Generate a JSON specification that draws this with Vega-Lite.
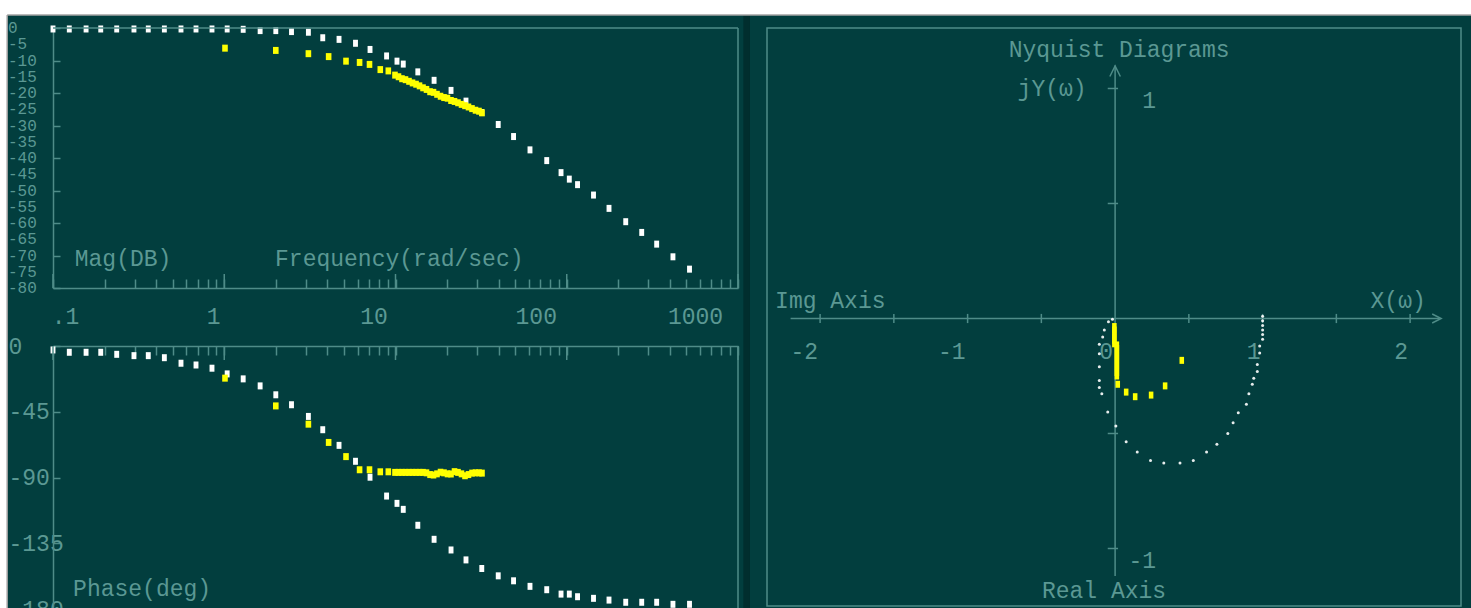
{
  "$schema": "https://vega.github.io/schema/vega-lite/v6.json",
  "autosize": {"type": "none"},
  "padding": {"left": 53, "top": 28, "right": 1418, "bottom": 580},
  "background": "#023e3e",
  "bounds": "flush",
  "spacing": 29,
  "config": {
    "view": {"stroke": null},
    "axis": {"domainColor": "#4f8c88", "tickColor": "#4f8c88", "domainWidth": 1.5, "tickWidth": 1.5, "labelColor": "#5b9893", "labelFont": "Liberation Mono", "labelFontSize": 23, "grid": false, "title": null, "labelFlush": false},
    "text": {"font": "Liberation Mono", "fontSize": 23, "color": "#5b9893"},
    "rule": {"color": "#4f8c88", "strokeWidth": 1.5}
  },
  "datasets": {
    "white": [
      {"w": 0.1, "mag": -0.3, "phase": -2.7},
      {"w": 0.1245, "mag": -0.3, "phase": -4.3},
      {"w": 0.156, "mag": -0.3, "phase": -4.3},
      {"w": 0.19, "mag": -0.3, "phase": -4.3},
      {"w": 0.2355, "mag": -0.3, "phase": -5.7},
      {"w": 0.297, "mag": -0.3, "phase": -6.6},
      {"w": 0.36, "mag": -0.3, "phase": -6.6},
      {"w": 0.447, "mag": -0.3, "phase": -8.0},
      {"w": 0.559, "mag": -0.3, "phase": -11.8},
      {"w": 0.684, "mag": -0.3, "phase": -13.0},
      {"w": 0.848, "mag": -0.3, "phase": -15.2},
      {"w": 1.04, "mag": -0.3, "phase": -19.1},
      {"w": 1.29, "mag": -0.4, "phase": -22.5},
      {"w": 1.62, "mag": -0.8, "phase": -27.3},
      {"w": 2.0, "mag": -0.8, "phase": -33.4},
      {"w": 2.47, "mag": -1.1, "phase": -40.2},
      {"w": 3.1, "mag": -1.3, "phase": -48.2},
      {"w": 3.76, "mag": -3.0, "phase": -57.3},
      {"w": 4.68, "mag": -3.5, "phase": -68.0},
      {"w": 5.84, "mag": -4.7, "phase": -78.9},
      {"w": 7.1, "mag": -6.6, "phase": -89.8},
      {"w": 8.87, "mag": -8.6, "phase": -102.7},
      {"w": 10.2, "mag": -10.2, "phase": -107.7},
      {"w": 11.1, "mag": -11.1, "phase": -111.8},
      {"w": 13.5, "mag": -13.5, "phase": -122.7},
      {"w": 16.8, "mag": -16.1, "phase": -132.3},
      {"w": 21.1, "mag": -19.2, "phase": -139.6},
      {"w": 25.8, "mag": -22.5, "phase": -146.4},
      {"w": 31.9, "mag": -26.0, "phase": -152.3},
      {"w": 39.8, "mag": -29.7, "phase": -157.3},
      {"w": 48.9, "mag": -33.4, "phase": -160.7},
      {"w": 61.0, "mag": -37.5, "phase": -164.5},
      {"w": 76.4, "mag": -40.8, "phase": -166.8},
      {"w": 92.6, "mag": -44.5, "phase": -169.8},
      {"w": 103.5, "mag": -46.5, "phase": -169.8},
      {"w": 115.6, "mag": -48.2, "phase": -171.6},
      {"w": 143.3, "mag": -51.4, "phase": -172.7},
      {"w": 176.5, "mag": -55.5, "phase": -173.9},
      {"w": 221, "mag": -59.6, "phase": -175.4},
      {"w": 274, "mag": -62.9, "phase": -175.4},
      {"w": 335, "mag": -66.5, "phase": -175.4},
      {"w": 417, "mag": -70.4, "phase": -176.8},
      {"w": 521, "mag": -74.2, "phase": -176.8}
    ],
    "yellow": [
      {"w": 1.01, "mag": -6.2, "phase": -22.0},
      {"w": 2.0, "mag": -6.9, "phase": -41.0},
      {"w": 3.1, "mag": -7.9, "phase": -53.5},
      {"w": 4.07, "mag": -8.8, "phase": -66.0},
      {"w": 5.14, "mag": -10.2, "phase": -75.7},
      {"w": 6.17, "mag": -10.6, "phase": -84.7},
      {"w": 7.05, "mag": -11.2, "phase": -84.7},
      {"w": 8.15, "mag": -12.8, "phase": -86.1},
      {"w": 9.08, "mag": -13.2, "phase": -86.1},
      {"w": 9.93, "mag": -14.5, "phase": -86.5},
      {"w": 10.41, "mag": -15.0, "phase": -86.5},
      {"w": 10.91, "mag": -15.6, "phase": -86.5},
      {"w": 11.44, "mag": -15.9, "phase": -86.5},
      {"w": 11.99, "mag": -16.4, "phase": -86.5},
      {"w": 12.57, "mag": -16.9, "phase": -86.5},
      {"w": 13.18, "mag": -17.3, "phase": -86.5},
      {"w": 13.81, "mag": -17.8, "phase": -86.5},
      {"w": 14.48, "mag": -18.4, "phase": -86.5},
      {"w": 15.17, "mag": -18.9, "phase": -86.8},
      {"w": 15.91, "mag": -19.6, "phase": -88.0},
      {"w": 16.67, "mag": -19.8, "phase": -88.3},
      {"w": 17.47, "mag": -20.4, "phase": -87.5},
      {"w": 18.32, "mag": -21.0, "phase": -86.4},
      {"w": 19.2, "mag": -21.4, "phase": -86.8},
      {"w": 20.12, "mag": -21.6, "phase": -87.5},
      {"w": 21.09, "mag": -22.3, "phase": -87.6},
      {"w": 22.11, "mag": -22.6, "phase": -86.0},
      {"w": 23.17, "mag": -23.0, "phase": -86.5},
      {"w": 24.29, "mag": -23.5, "phase": -87.5},
      {"w": 25.46, "mag": -23.9, "phase": -88.8},
      {"w": 26.68, "mag": -24.3, "phase": -88.0},
      {"w": 27.97, "mag": -24.8, "phase": -87.0},
      {"w": 29.32, "mag": -25.3, "phase": -86.8},
      {"w": 30.73, "mag": -25.6, "phase": -86.8},
      {"w": 32.0, "mag": -26.1, "phase": -87.0}
    ],
    "majorTicks": [{"v": 0.1}, {"v": 1}, {"v": 10}, {"v": 100}, {"v": 1000}],
    "magLabels": [
      {"v": 0, "label": "0"}, {"v": -5, "label": "-5"}, {"v": -10, "label": "-10"}, {"v": -15, "label": "-15"},
      {"v": -20, "label": "-20"}, {"v": -25, "label": "-25"}, {"v": -30, "label": "-30"}, {"v": -35, "label": "-35"},
      {"v": -40, "label": "-40"}, {"v": -45, "label": "-45"}, {"v": -50, "label": "-50"}, {"v": -55, "label": "-55"},
      {"v": -60, "label": "-60"}, {"v": -65, "label": "-65"}, {"v": -70, "label": "-70"}, {"v": -75, "label": "-75"},
      {"v": -80, "label": "-80"}
    ],
    "nyqWhite": [
      {"re": 1.0, "im": 0.01}, {"re": 1.0, "im": -0.01}, {"re": 1.0, "im": -0.03}, {"re": 1.0, "im": -0.05},
      {"re": 1.0, "im": -0.07}, {"re": 1.0, "im": -0.09}, {"re": 0.98, "im": -0.12}, {"re": 0.98, "im": -0.15},
      {"re": 0.964, "im": -0.2}, {"re": 0.964, "im": -0.23}, {"re": 0.94, "im": -0.26}, {"re": 0.93, "im": -0.286},
      {"re": 0.907, "im": -0.327}, {"re": 0.89, "im": -0.373}, {"re": 0.835, "im": -0.41}, {"re": 0.8, "im": -0.453},
      {"re": 0.764, "im": -0.5}, {"re": 0.69, "im": -0.547}, {"re": 0.62, "im": -0.58}, {"re": 0.53, "im": -0.617},
      {"re": 0.44, "im": -0.628}, {"re": 0.33, "im": -0.628}, {"re": 0.24, "im": -0.617}, {"re": 0.15, "im": -0.58},
      {"re": 0.075, "im": -0.536}, {"re": 0.005, "im": -0.467}, {"re": -0.05, "im": -0.407}, {"re": -0.09, "im": -0.327},
      {"re": -0.107, "im": -0.3}, {"re": -0.107, "im": -0.27}, {"re": -0.107, "im": -0.21}, {"re": -0.107, "im": -0.153},
      {"re": -0.107, "im": -0.112}, {"re": -0.084, "im": -0.08}, {"re": -0.073, "im": -0.05}, {"re": -0.045, "im": -0.014},
      {"re": -0.018, "im": -0.003}
    ],
    "nyqYellow": [
      {"re": -0.005, "im": -0.035}, {"re": -0.005, "im": -0.05}, {"re": -0.005, "im": -0.065}, {"re": -0.005, "im": -0.08},
      {"re": -0.005, "im": -0.095}, {"re": -0.005, "im": -0.11}, {"re": 0.012, "im": -0.115}, {"re": 0.012, "im": -0.13},
      {"re": 0.012, "im": -0.145}, {"re": 0.012, "im": -0.16}, {"re": 0.012, "im": -0.175}, {"re": 0.012, "im": -0.19},
      {"re": 0.012, "im": -0.205}, {"re": 0.012, "im": -0.22}, {"re": 0.012, "im": -0.235}, {"re": 0.012, "im": -0.25},
      {"re": 0.018, "im": -0.286}, {"re": 0.075, "im": -0.32}, {"re": 0.136, "im": -0.34}, {"re": 0.244, "im": -0.333},
      {"re": 0.339, "im": -0.293}, {"re": 0.452, "im": -0.182}
    ],
    "reTicks": [{"v": -2}, {"v": -1.5}, {"v": -1}, {"v": -0.5}, {"v": 0.5}, {"v": 1}, {"v": 1.5}, {"v": 2}],
    "imTicks": [{"v": -1}, {"v": -0.5}, {"v": 0.5}, {"v": 1}],
    "reLabels": [{"v": -2, "label": "-2"}, {"v": -1, "label": "-1"}, {"v": 0, "label": "0"}, {"v": 1, "label": "1"}, {"v": 2, "label": "2"}],
    "imLabels": [{"v": 1, "label": "1"}, {"v": -1, "label": "-1"}]
  },
  "hconcat": [
    {
      "width": 685,
      "height": 581,
      "view": {"stroke": null},
      "resolve": {"scale": {"y": "independent"}, "axis": {"x": "independent", "y": "independent"}},
      "layer": [
        {
          "layer": [
            {
              "data": {"values": [{}]},
              "mark": {"type": "rect", "color": "#ffffff"},
              "encoding": {"x": {"datum": 0.02}, "x2": {"datum": 1000000000}, "y": {"datum": 4.0}, "y2": {"datum": 14}}
            },
            {
              "data": {"values": [{}]},
              "mark": {"type": "rect", "color": "#ffffff"},
              "encoding": {"x": {"datum": 0.02}, "x2": {"datum": 0.054}, "y": {"datum": 14}, "y2": {"datum": -260}}
            },
            {
              "data": {"values": [{}]},
              "mark": {"type": "rect", "color": "#012e2e"},
              "encoding": {"x": {"datum": 1075}, "x2": {"datum": 1175}, "y": {"datum": 4.0}, "y2": {"datum": -260}}
            },
            {
              "data": {"values": [{}]},
              "mark": {"type": "rule", "color": "#a3a3a3", "strokeWidth": 1.5},
              "encoding": {"x": {"datum": 0.054}, "x2": {"datum": 1000000000}, "y": {"datum": 4.0}}
            },
            {
              "data": {"values": [{}]},
              "mark": {"type": "rule", "color": "#a3a3a3", "strokeWidth": 1.5},
              "encoding": {"x": {"datum": 0.054}, "y": {"datum": 4.0}, "y2": {"datum": -260}}
            },
            {
              "data": {"name": "white"},
              "mark": {"type": "point", "shape": "M-0.7,-1H0.7V1H-0.7Z", "filled": true, "size": 49, "color": "#ffffff", "opacity": 1},
              "encoding": {
                "x": {
                  "field": "w", "type": "quantitative",
                  "scale": {"type": "log", "domain": [0.1, 1000], "nice": false},
                  "axis": {
                    "orient": "bottom",
                    "offset": -321,
                    "values": [0.1, 0.2, 0.3, 0.4, 0.5, 0.6, 0.7, 0.8, 0.9, 1, 2, 3, 4, 5, 6, 7, 8, 9, 10, 20, 30, 40, 50, 60, 70, 80, 90, 100, 200, 300, 400, 500, 600, 700, 800, 900, 1000],
                    "tickSize": -9,
                    "labelPadding": 37,
                    "labelAlign": "center",
                    "labelBaseline": "middle",
                    "labelOverlap": {"expr": "false"},
                    "labelFlush": false,
                    "labelExpr": "datum.value == 0.1 ? '.1' : ((datum.value == 1 || datum.value == 10 || datum.value == 100 || datum.value == 1000) ? '' + datum.value : '')",
                    "labelOffset": {"condition": [
                      {"test": "datum.value == 0.1", "value": 12},
                      {"test": "datum.value == 1", "value": -11},
                      {"test": "datum.value == 10", "value": -22},
                      {"test": "datum.value == 100", "value": -31},
                      {"test": "datum.value == 1000", "value": -43}
                    ], "value": 0}
                  }
                },
                "y": {
                  "field": "mag", "type": "quantitative",
                  "scale": {"domain": [-80, 0], "range": [260, 0], "nice": false, "zero": false},
                  "axis": {
                    "orient": "left",
                    "values": [0, -5, -10, -15, -20, -25, -30, -35, -40, -45, -50, -55, -60, -65, -70, -75, -80],
                    "tickSize": -7,
                    "labels": false
                  }
                }
              }
            },
            {
              "data": {"name": "yellow"},
              "mark": {"type": "point", "shape": "M-0.8,-1H0.8V1H-0.8Z", "filled": true, "size": 49, "color": "#ffff00", "opacity": 1},
              "encoding": {
                "x": {"field": "w", "type": "quantitative"},
                "y": {"field": "mag", "type": "quantitative"}
              }
            },
            {
              "data": {"name": "magLabels"},
              "mark": {"type": "text", "align": "left", "baseline": "middle", "dx": -45, "fontSize": 16},
              "encoding": {"x": {"datum": 0.1}, "y": {"field": "v", "type": "quantitative"}, "text": {"field": "label"}}
            },
            {
              "data": {"name": "majorTicks"},
              "mark": {"type": "rule"},
              "encoding": {"x": {"field": "v", "type": "quantitative"}, "y": {"datum": -80}, "y2": {"datum": -75.7}}
            },
            {
              "data": {"values": [{}]},
              "mark": {"type": "rule"},
              "encoding": {"x": {"datum": 0.1}, "x2": {"datum": 1000}, "y": {"datum": 0}}
            },
            {
              "data": {"values": [{}]},
              "mark": {"type": "rule"},
              "encoding": {"x": {"datum": 1000}, "y": {"datum": -80}, "y2": {"datum": 0}}
            },
            {
              "data": {"values": [{}]},
              "mark": {"type": "text", "align": "left", "baseline": "middle"},
              "encoding": {"x": {"datum": 0.134}, "y": {"datum": -71}, "text": {"value": "Mag(DB)"}}
            },
            {
              "data": {"values": [{}]},
              "mark": {"type": "text", "align": "left", "baseline": "middle"},
              "encoding": {"x": {"datum": 1.98}, "y": {"datum": -71}, "text": {"value": "Frequency(rad/sec)"}}
            }
          ]
        },
        {
          "layer": [
            {
              "data": {"name": "white"},
              "mark": {"type": "point", "shape": "M-0.7,-1H0.7V1H-0.7Z", "filled": true, "size": 49, "color": "#ffffff", "opacity": 1},
              "encoding": {
                "x": {
                  "field": "w", "type": "quantitative",
                  "axis": {
                    "orient": "top",
                    "offset": -318,
                    "values": [0.1, 0.2, 0.3, 0.4, 0.5, 0.6, 0.7, 0.8, 0.9, 1, 2, 3, 4, 5, 6, 7, 8, 9, 10, 20, 30, 40, 50, 60, 70, 80, 90, 100, 200, 300, 400, 500, 600, 700, 800, 900, 1000],
                    "tickSize": -9,
                    "labels": false
                  }
                },
                "y": {
                  "field": "phase", "type": "quantitative",
                  "scale": {"domain": [-180, 0], "range": [581, 318], "nice": false, "zero": false},
                  "axis": {
                    "orient": "right",
                    "offset": -685,
                    "values": [0, -45, -90, -135, -180],
                    "tickSize": 7,
                    "labelPadding": -52,
                    "labelAlign": "left",
                    "labelBaseline": "middle",
                    "labelOverlap": {"expr": "false"},
                    "labelExpr": "'' + datum.value"
                  }
                }
              }
            },
            {
              "data": {"name": "yellow"},
              "mark": {"type": "point", "shape": "M-0.8,-1H0.8V1H-0.8Z", "filled": true, "size": 49, "color": "#ffff00", "opacity": 1},
              "encoding": {
                "x": {"field": "w", "type": "quantitative"},
                "y": {"field": "phase", "type": "quantitative"}
              }
            },
            {
              "data": {"name": "majorTicks"},
              "mark": {"type": "rule"},
              "encoding": {"x": {"field": "v", "type": "quantitative"}, "y": {"datum": 0}, "y2": {"datum": -9.6}}
            },
            {
              "data": {"values": [{}]},
              "mark": {"type": "rule"},
              "encoding": {"x": {"datum": 1000}, "y": {"datum": -180}, "y2": {"datum": 0}}
            },
            {
              "data": {"values": [{}]},
              "mark": {"type": "rule"},
              "encoding": {"x": {"datum": 0.1}, "x2": {"datum": 1000}, "y": {"datum": -180}}
            },
            {
              "data": {"values": [{}]},
              "mark": {"type": "text", "align": "left", "baseline": "middle"},
              "encoding": {"x": {"datum": 0.131}, "y": {"datum": -166}, "text": {"value": "Phase(deg)"}}
            }
          ]
        }
      ]
    },
    {
      "width": 694,
      "height": 578,
      "view": {"stroke": "#4f8c88", "strokeWidth": 1.5},
      "encoding": {
        "x": {"type": "quantitative", "scale": {"domain": [-2.36, 2.345], "nice": false, "zero": false}, "axis": null},
        "y": {"type": "quantitative", "scale": {"domain": [-1.25, 1.263], "nice": false, "zero": false}, "axis": null}
      },
      "layer": [
        {
          "data": {"values": [{}]},
          "mark": {"type": "rule"},
          "encoding": {"x": {"datum": -2.2}, "x2": {"datum": 2.2}, "y": {"datum": 0}}
        },
        {
          "data": {"values": [{}]},
          "mark": {"type": "rule"},
          "encoding": {"x": {"datum": 0}, "y": {"datum": -1.12}, "y2": {"datum": 1.1}}
        },
        {
          "data": {"values": [{}]},
          "mark": {"type": "point", "shape": "M-1,1L0,-1L1,1", "filled": false, "size": 110, "color": "#4f8c88", "strokeWidth": 1.5, "opacity": 1},
          "encoding": {"x": {"datum": 0}, "y": {"datum": 1.075}}
        },
        {
          "data": {"values": [{}]},
          "mark": {"type": "point", "shape": "M-1,-1L1,0L-1,1", "filled": false, "size": 80, "color": "#4f8c88", "strokeWidth": 1.5, "opacity": 1},
          "encoding": {"x": {"datum": 2.18}, "y": {"datum": 0}}
        },
        {
          "data": {"name": "reTicks"},
          "mark": {"type": "rule"},
          "encoding": {"x": {"field": "v", "type": "quantitative"}, "y": {"datum": -0.02}, "y2": {"datum": 0.02}}
        },
        {
          "data": {"name": "imTicks"},
          "mark": {"type": "rule"},
          "encoding": {"y": {"field": "v", "type": "quantitative"}, "x": {"datum": -0.05}, "x2": {"datum": 0.02}}
        },
        {
          "data": {"name": "reLabels"},
          "mark": {"type": "text", "align": "right", "baseline": "middle", "dx": -2, "dy": 34},
          "encoding": {"x": {"field": "v", "type": "quantitative"}, "y": {"datum": 0}, "text": {"field": "label"}}
        },
        {
          "data": {"name": "imLabels"},
          "mark": {"type": "text", "align": "right", "baseline": "middle", "dx": 41, "dy": 13},
          "encoding": {"y": {"field": "v", "type": "quantitative"}, "x": {"datum": 0}, "text": {"field": "label"}}
        },
        {
          "data": {"values": [{}]},
          "mark": {"type": "text", "align": "center", "baseline": "middle"},
          "encoding": {"x": {"datum": 0.027}, "y": {"datum": 1.167}, "text": {"value": "Nyquist Diagrams"}}
        },
        {
          "data": {"values": [{}]},
          "mark": {"type": "text", "align": "center", "baseline": "middle"},
          "encoding": {"x": {"datum": -0.427}, "y": {"datum": 0.998}, "text": {"value": "jY(ω)"}}
        },
        {
          "data": {"values": [{}]},
          "mark": {"type": "text", "align": "left", "baseline": "middle"},
          "encoding": {"x": {"datum": -2.305}, "y": {"datum": 0.076}, "text": {"value": "Img Axis"}}
        },
        {
          "data": {"values": [{}]},
          "mark": {"type": "text", "align": "center", "baseline": "middle"},
          "encoding": {"x": {"datum": 1.919}, "y": {"datum": 0.076}, "text": {"value": "X(ω)"}}
        },
        {
          "data": {"values": [{}]},
          "mark": {"type": "text", "align": "center", "baseline": "middle"},
          "encoding": {"x": {"datum": -0.075}, "y": {"datum": -1.185}, "text": {"value": "Real Axis"}}
        },
        {
          "data": {"name": "nyqWhite"},
          "mark": {"type": "point", "shape": "circle", "filled": true, "size": 9, "color": "#ffffff", "opacity": 0.9},
          "encoding": {"x": {"field": "re", "type": "quantitative"}, "y": {"field": "im", "type": "quantitative"}}
        },
        {
          "data": {"name": "nyqYellow"},
          "mark": {"type": "point", "shape": "M-0.65,-1H0.65V1H-0.65Z", "filled": true, "size": 49, "color": "#ffff00", "opacity": 1},
          "encoding": {"x": {"field": "re", "type": "quantitative"}, "y": {"field": "im", "type": "quantitative"}}
        }
      ]
    }
  ]
}
